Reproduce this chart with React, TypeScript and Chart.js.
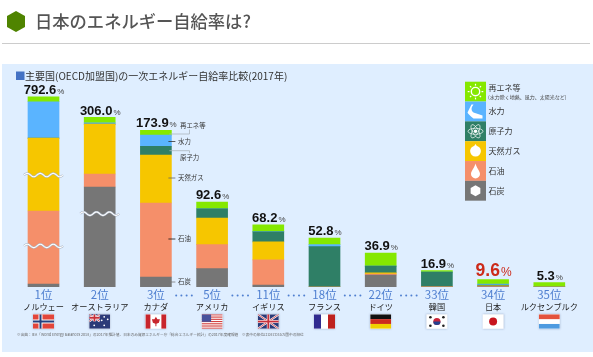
import React, { useEffect, useRef } from "react";
import { Chart, registerables } from "chart.js";

Chart.register(...registerables);

const JP = '"Noto Sans CJK JP"';
const NUM = '"Liberation Sans"';

const ranks = ["1位", "2位", "3位", "5位", "11位", "18位", "22位", "33位", "34位", "35位"];
const countries = ["ノルウェー", "オーストラリア", "カナダ", "アメリカ", "イギリス", "フランス", "ドイツ", "韓国", "日本", "ルクセンブルク"];
const totals = ["792.6", "306.0", "173.9", "92.6", "68.2", "52.8", "36.9", "16.9", "9.6", "5.3"];
const flags = ["no", "au", "ca", "us", "uk", "fr", "de", "kr", "jp", "lu"];

// Heights on the picture's broken axis (Norway and Australia are truncated by wave marks)
const coal = [3.3, 108.7, 10.9, 19.9, 2.2, 0, 13, 0.3, 0.3, 0];
const oil = [79.3, 14.1, 80.4, 26.1, 27.2, 0, 1, 0, 0.4, 0];
const gas = [79.3, 54.3, 52.2, 29, 19.6, 0, 1.4, 0.2, 0.6, 0];
const nuclear = [0, 0, 9.5, 10.1, 10.9, 43.8, 7.3, 15.6, 0.8, 0];
const hydro = [39.5, 1.4, 12, 0, 0.3, 2.2, 0, 0, 1, 0];
const renewable = [5.4, 5.8, 5.4, 7.3, 7.3, 7.3, 14.1, 1.8, 5, 4.7];

const breakMarks: [number, number][] = [[0, 121.7], [0, 44.6], [1, 79.7]];
const dotGaps = [2, 3, 4, 5, 6];

const legendItems = [
  { label: "再エネ等", color: "#85E800", icon: "sun" },
  { label: "水力", color: "#5AB4FF", icon: "river" },
  { label: "原子力", color: "#2F7F66", icon: "atom" },
  { label: "天然ガス", color: "#F6C600", icon: "gas" },
  { label: "石油", color: "#F58F6A", icon: "drop" },
  { label: "石炭", color: "#767676", icon: "coal" },
];

const callouts = [
  { label: "再エネ等", kind: "up", y: 134, ty: 125.7, tx: 180, c: "#A9B4BC" },
  { label: "水力", kind: "tick", y: 141.5, ty: 141.5, tx: 178, c: "#333" },
  { label: "原子力", kind: "down", y: 150.7, ty: 158, tx: 180, c: "#A9B4BC" },
  { label: "天然ガス", kind: "tick", y: 178, ty: 178, tx: 178, c: "#666" },
  { label: "石油", kind: "tick", y: 239, ty: 239, tx: 178, c: "#111" },
  { label: "石炭", kind: "tick", y: 282, ty: 282, tx: 178, c: "#777" },
];

function drawFlag(ctx: CanvasRenderingContext2D, f: string, x: number, y: number) {
  const w = 21, h = 14.5;
  const r = (c: string, a: number, b: number, cw: number, ch: number) => {
    ctx.fillStyle = c;
    ctx.fillRect(x + a, y + b, cw, ch);
  };
  ctx.save();
  ctx.shadowColor = "rgba(70,90,130,0.35)";
  ctx.shadowBlur = 2;
  r("#fff", 0, 0, w, h);
  ctx.restore();
  ctx.save();
  ctx.beginPath();
  ctx.rect(x, y, w, h);
  ctx.clip();
  const line = (c: string, lw: number, a: number, b: number, d: number, e: number) => {
    ctx.strokeStyle = c;
    ctx.lineWidth = lw;
    ctx.beginPath();
    ctx.moveTo(x + a, y + b);
    ctx.lineTo(x + d, y + e);
    ctx.stroke();
  };
  const dot = (c: string, a: number, b: number, rad: number) => {
    ctx.fillStyle = c;
    ctx.beginPath();
    ctx.arc(x + a, y + b, rad, 0, Math.PI * 2);
    ctx.fill();
  };
  const ukJack = (cw: number, ch: number) => {
    r("#2B3A78", 0, 0, cw, ch);
    line("#fff", 2, 0, 0, cw, ch);
    line("#fff", 2, cw, 0, 0, ch);
    line("#C8303A", 0.8, 0, 0, cw, ch);
    line("#C8303A", 0.8, cw, 0, 0, ch);
    r("#fff", cw / 2 - 1.5, 0, 3, ch);
    r("#fff", 0, ch / 2 - 1.5, cw, 3);
    r("#C8303A", cw / 2 - 0.9, 0, 1.8, ch);
    r("#C8303A", 0, ch / 2 - 0.9, cw, 1.8);
  };
  if (f === "no") {
    r("#E2453A", 0, 0, w, h);
    r("#fff", 5.5, 0, 4, h);
    r("#fff", 0, 5.2, w, 4);
    r("#26407F", 6.5, 0, 2, h);
    r("#26407F", 0, 6.2, w, 2);
  } else if (f === "au") {
    r("#2B3A78", 0, 0, w, h);
    ukJack(10.5, 7);
    [[15, 2.5], [18.5, 5], [15, 11], [12.5, 6], [5, 11]].forEach(([a, b]) => dot("#fff", a, b, 0.9));
  } else if (f === "ca") {
    r("#C8252C", 0, 0, 5, h);
    r("#C8252C", 16, 0, 5, h);
    ctx.fillStyle = "#C8252C";
    ctx.beginPath();
    ctx.moveTo(x + 10.5, y + 2.5);
    ctx.lineTo(x + 12, y + 5);
    ctx.lineTo(x + 14.5, y + 5);
    ctx.lineTo(x + 13.5, y + 8.5);
    ctx.lineTo(x + 11, y + 9.5);
    ctx.lineTo(x + 11, y + 12);
    ctx.lineTo(x + 10, y + 12);
    ctx.lineTo(x + 10, y + 9.5);
    ctx.lineTo(x + 7.5, y + 8.5);
    ctx.lineTo(x + 6.5, y + 5);
    ctx.lineTo(x + 9, y + 5);
    ctx.closePath();
    ctx.fill();
  } else if (f === "us") {
    for (let i = 0; i < 7; i++) r("#D2403F", 0, (i * h * 2) / 13, w, h / 13);
    r("#46509B", 0, 0, 9.5, 7.5);
  } else if (f === "uk") {
    ukJack(w, h);
  } else if (f === "fr") {
    r("#2F2A8F", 0, 0, 7, h);
    r("#BE211E", 14, 0, 7, h);
  } else if (f === "de") {
    r("#111", 0, 0, w, h / 3);
    r("#CC2A1E", 0, h / 3, w, h / 3);
    r("#F0D000", 0, (2 * h) / 3, w, h / 3);
  } else if (f === "kr") {
    dot("#C8253A", 10.5, 7.2, 3.6);
    ctx.fillStyle = "#24408E";
    ctx.beginPath();
    ctx.arc(x + 10.5, y + 7.2, 3.6, 0, Math.PI);
    ctx.fill();
    [[4, 3], [17, 3], [4, 11.5], [17, 11.5]].forEach(([a, b]) => dot("#222", a, b, 1.3));
  } else if (f === "jp") {
    dot("#C8141E", 10.5, 7.2, 4);
  } else if (f === "lu") {
    r("#E4533D", 0, 0, w, h / 3);
    r("#4F9BE0", 0, (2 * h) / 3, w, h / 3);
  }
  ctx.restore();
}

function drawIcon(ctx: CanvasRenderingContext2D, icon: string, cx: number, cy: number) {
  ctx.save();
  ctx.fillStyle = "#fff";
  ctx.strokeStyle = "#fff";
  const circle = (r: number) => {
    ctx.beginPath();
    ctx.arc(cx, cy, r, 0, Math.PI * 2);
    ctx.fill();
  };
  if (icon === "sun") {
    ctx.lineWidth = 1.4;
    ctx.beginPath();
    ctx.arc(cx, cy, 4.2, 0, Math.PI * 2);
    ctx.stroke();
    ctx.lineWidth = 1.2;
    for (let i = 0; i < 8; i++) {
      const a = (i * Math.PI) / 4;
      ctx.beginPath();
      ctx.moveTo(cx + Math.cos(a) * 6, cy + Math.sin(a) * 6);
      ctx.lineTo(cx + Math.cos(a) * 7.8, cy + Math.sin(a) * 7.8);
      ctx.stroke();
    }
  } else if (icon === "river") {
    ctx.beginPath();
    ctx.moveTo(cx - 2, cy - 7);
    ctx.quadraticCurveTo(cx - 6, cy - 2, cx - 2, cy + 1);
    ctx.lineTo(cx + 7, cy + 4);
    ctx.lineTo(cx + 7, cy + 7);
    ctx.lineTo(cx - 2, cy + 7);
    ctx.quadraticCurveTo(cx - 7, cy + 3, cx - 8, cy + 1);
    ctx.lineTo(cx - 4, cy - 7);
    ctx.closePath();
    ctx.fill();
  } else if (icon === "atom") {
    ctx.lineWidth = 0.7;
    [0, Math.PI / 3, (2 * Math.PI) / 3].forEach((a) => {
      ctx.beginPath();
      ctx.ellipse(cx, cy, 7.5, 3, a, 0, Math.PI * 2);
      ctx.stroke();
    });
    circle(1.8);
  } else if (icon === "gas") {
    circle(5.4);
    ctx.beginPath();
    ctx.moveTo(cx, cy - 7);
    ctx.lineTo(cx - 2, cy - 4);
    ctx.lineTo(cx + 2, cy - 4);
    ctx.closePath();
    ctx.fill();
  } else if (icon === "drop") {
    ctx.beginPath();
    ctx.moveTo(cx, cy - 7.5);
    ctx.bezierCurveTo(cx + 1, cy - 3, cx + 4.5, cy, cx + 4.5, cy + 3);
    ctx.arc(cx, cy + 3, 4.5, 0, Math.PI);
    ctx.bezierCurveTo(cx - 4.5, cy, cx - 1, cy - 3, cx, cy - 7.5);
    ctx.fill();
  } else {
    ctx.beginPath();
    for (let i = 0; i < 6; i++) {
      const a = Math.PI / 6 + (i * Math.PI) / 3;
      ctx.lineTo(cx + Math.cos(a) * 5.6, cy + Math.sin(a) * 5.6);
    }
    ctx.closePath();
    ctx.fill();
  }
  ctx.restore();
}

const panelPlugin = {
  id: "panel",
  beforeDraw(chart: any) {
    const ctx = chart.ctx;
    ctx.save();
    ctx.fillStyle = "#DFEEFF";
    ctx.fillRect(2, 64, 591, 288);
    ctx.fillStyle = "#4472C4";
    ctx.fillRect(16, 71.5, 8.5, 8.5);
    ctx.fillStyle = "#333";
    ctx.font = `10px ${JP}`;
    ctx.textBaseline = "middle";
    ctx.fillText("主要国(OECD加盟国)の一次エネルギー自給率比較(2017年)", 25, 76);
    ctx.restore();
  },
};

const overlayPlugin = {
  id: "overlay",
  afterDraw(chart: any) {
    const ctx = chart.ctx;
    const xs = chart.scales.x;
    const ys = chart.scales.y;
    ctx.save();
    // Wave marks on truncated bars
    breakMarks.forEach(([i, v]) => {
      const cx = xs.getPixelForValue(i);
      const cy = ys.getPixelForValue(v);
      const path = () => {
        ctx.beginPath();
        for (let k = -19.5; k <= 19.5; k += 0.5) {
          const p = cy + Math.sin((k / 6.5) * Math.PI) * 1.7;
          if (k === -19.5) ctx.moveTo(cx + k, p);
          else ctx.lineTo(cx + k, p);
        }
      };
      ctx.strokeStyle = "#A8B4C4";
      ctx.lineWidth = 2.2;
      path();
      ctx.stroke();
      ctx.strokeStyle = "#fff";
      ctx.lineWidth = 1.1;
      path();
      ctx.stroke();
    });
    // Value labels
    totals.forEach((t, i) => {
      const cx = xs.getPixelForValue(i);
      const stackTop = [coal, oil, gas, nuclear, hydro, renewable].reduce((s, a) => s + a[i], 0);
      const yTop = ys.getPixelForValue(stackTop);
      const big = i === 8;
      const fNum = `bold ${big ? 17.5 : 13}px ${NUM}`;
      const fPct = `${big ? 12 : 8}px ${NUM}`;
      ctx.textBaseline = "alphabetic";
      ctx.textAlign = "left";
      ctx.font = fNum;
      const w1 = ctx.measureText(t).width;
      ctx.font = fPct;
      const w2 = ctx.measureText("%").width;
      const sx = cx - (w1 + w2 + 1) / 2 + 0.5;
      const by = yTop - (big ? 4 : 2.8);
      ctx.font = fNum;
      ctx.fillStyle = big ? "#CC2A1A" : "#111";
      ctx.fillText(t, sx, by);
      ctx.font = fPct;
      ctx.fillStyle = big ? "#CC2A1A" : "#444";
      ctx.fillText("%", sx + w1 + 1, by);
    });
    // Dots between rank labels that skip places
    ctx.fillStyle = "#4F7FD0";
    dotGaps.forEach((g) => {
      const mx = (xs.getPixelForValue(g) + xs.getPixelForValue(g + 1)) / 2;
      [-7.8, -2.6, 2.6, 7.8].forEach((d) => {
        ctx.beginPath();
        ctx.arc(mx + d, 295.5, 1, 0, Math.PI * 2);
        ctx.fill();
      });
    });
    // Flags
    flags.forEach((f, i) => drawFlag(ctx, f, xs.getPixelForValue(i) - 10.5, 314.3));
    // Canada callouts
    const barRight = xs.getPixelForValue(2) + 15.5;
    ctx.font = `6.4px ${JP}`;
    ctx.textBaseline = "middle";
    ctx.textAlign = "left";
    callouts.forEach((c) => {
      ctx.strokeStyle = c.c;
      ctx.lineWidth = 0.8;
      ctx.beginPath();
      if (c.kind === "tick") {
        ctx.moveTo(barRight - 3, c.y);
        ctx.lineTo(barRight + 4, c.y);
      } else if (c.kind === "up") {
        ctx.moveTo(barRight - 2, c.y);
        ctx.lineTo(189.5, c.y);
        ctx.lineTo(189.5, 129.5);
      } else {
        ctx.moveTo(barRight - 2, c.y);
        ctx.lineTo(189.5, c.y);
        ctx.lineTo(189.5, 153);
      }
      ctx.stroke();
      ctx.fillStyle = "#333";
      ctx.fillText(c.label, c.tx, c.ty);
    });
    // Legend
    const step = 19.83;
    legendItems.forEach((it, i) => {
      const y = 81.7 + i * step;
      ctx.fillStyle = it.color;
      ctx.fillRect(465, y, 21, step);
      drawIcon(ctx, it.icon, 475.5, y + step / 2);
      ctx.fillStyle = "#333";
      ctx.font = `8px ${JP}`;
      ctx.textBaseline = "middle";
      ctx.fillText(it.label, 488.5, i === 0 ? 87.7 : y + step / 2);
    });
    ctx.fillStyle = "#444";
    ctx.font = `5px ${JP}`;
    ctx.fillText("(水力除く地熱、風力、太陽光など)", 488, 97);
    // Footnote
    ctx.fillStyle = "#666";
    ctx.font = `3.7px ${JP}`;
    ctx.fillText("※出典：IEA「World Energy Balances 2018」の2017年推計値、日本のみ資源エネルギー庁「総合エネルギー統計」の2017年度確報値　※表中の順位はOECD35カ国中の順位", 17, 335);
    ctx.restore();
  },
};

export default function App() {
  const ref = useRef<HTMLCanvasElement>(null);
  useEffect(() => {
    document.body.style.margin = "0";
    document.body.style.background = "#fff";
    const make = (label: string, data: number[], color: string) => ({
      label,
      data,
      backgroundColor: color,
      borderWidth: 0,
      barThickness: 31,
      xAxisID: "x",
    });
    const chart = new Chart(ref.current!, {
      type: "bar",
      data: {
        labels: ranks,
        datasets: [
          make("石炭", coal, "#767676"),
          make("石油", oil, "#F58F6A"),
          make("天然ガス", gas, "#F6C600"),
          make("原子力", nuclear, "#2F7F66"),
          make("水力", hydro, "#5AB4FF"),
          make("再エネ等", renewable, "#85E800"),
        ],
      },
      options: {
        animation: false,
        responsive: false,
        layout: { padding: { left: 15.4, right: 15.6, top: 84.6, bottom: 42 } },
        plugins: { legend: { display: false }, tooltip: { enabled: false }, title: { display: false } },
        scales: {
          x: {
            stacked: true,
            position: "bottom",
            grid: { display: false, drawTicks: false },
            border: { display: false },
            ticks: { color: "#4F7FD0", font: { family: JP, size: 11.5 }, padding: 1, autoSkip: false, maxRotation: 0 },
            afterFit: (s: any) => { s.height = 14; },
          },
          x2: {
            type: "category",
            labels: countries,
            position: "bottom",
            grid: { display: false, drawTicks: false },
            border: { display: false },
            ticks: { color: "#222", font: { family: JP, size: 8.2 }, padding: 1, autoSkip: false, maxRotation: 0 },
            afterFit: (s: any) => { s.height = 14; },
          },
          y: { stacked: true, display: false, min: 0, max: 220 },
        },
      } as any,
      plugins: [panelPlugin, overlayPlugin],
    });
    return () => chart.destroy();
  }, []);
  return (
    <div style={{ position: "relative", width: 593, height: 357, overflow: "hidden" }}>
      <canvas ref={ref} width={593} height={357} style={{ position: "absolute", left: 0, top: 0 }} />
      <svg width={593} height={50} style={{ position: "absolute", left: 0, top: 0 }}>
        <polygon points="16,11 25,16 25,27 16,32 7,27 7,16" fill="#4F8400" />
        <rect x={2} y={43} width={588} height={1} fill="#CCCCCC" />
      </svg>
      <div style={{ position: "absolute", left: 35, top: 9, fontFamily: JP, fontSize: 17.3, fontWeight: 500, color: "#555", lineHeight: "24px", whiteSpace: "nowrap" }}>
        日本のエネルギー自給率は?
      </div>
    </div>
  );
}
